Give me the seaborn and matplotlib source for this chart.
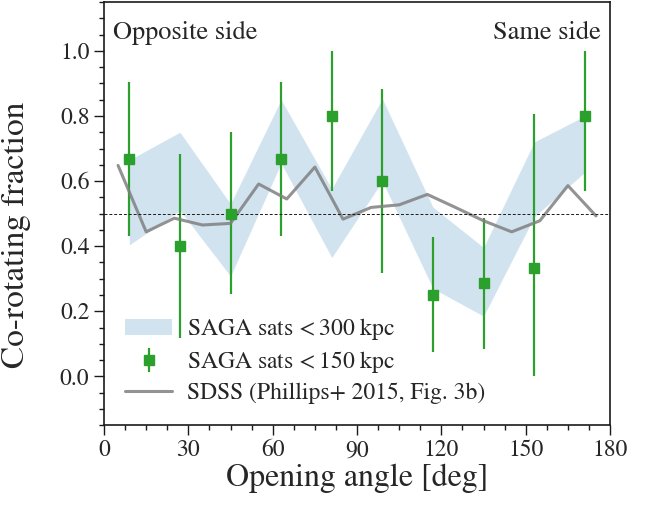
import numpy as np
import pandas as pd
import matplotlib
matplotlib.use("Agg")
import matplotlib.pyplot as plt
from matplotlib.ticker import MultipleLocator, FormatStrFormatter
import seaborn as sns

# SAGA sats < 150 kpc (binned points)
angle_bins = [9, 27, 45, 63, 81, 99, 117, 135, 153, 171]
frac_150 = [0.667, 0.4, 0.5, 0.667, 0.8, 0.6, 0.25, 0.286, 0.333, 0.8]
err_hi_150 = [0.905, 0.684, 0.751, 0.905, 1.0, 0.884, 0.427, 0.488, 0.807, 1.0]
err_lo_150 = [0.432, 0.118, 0.252, 0.432, 0.570, 0.319, 0.075, 0.084, 0.0, 0.570]

# SAGA sats < 300 kpc (band)
band_hi_300 = [0.665, 0.75, 0.53, 0.85, 0.576, 0.853, 0.52, 0.396, 0.72, 0.80]
band_lo_300 = [0.404, 0.51, 0.308, 0.655, 0.365, 0.60, 0.27, 0.185, 0.49, 0.627]

# SDSS (Phillips+ 2015, Fig. 3b)
sdss_angle = [5, 15, 25, 35, 45, 55, 65, 75, 85, 95, 105, 115, 125, 135, 145, 155, 165, 175]
sdss_frac = [0.648, 0.444, 0.486, 0.465, 0.470, 0.591, 0.545, 0.643, 0.483, 0.519,
             0.527, 0.559, 0.519, 0.478, 0.444, 0.478, 0.586, 0.493]

sns.set_theme(style="ticks")
plt.rcParams['font.family'] = ['STIXGeneral', 'Liberation Serif', 'DejaVu Serif']
plt.rcParams['mathtext.fontset'] = 'stix'

fig = plt.figure(figsize=(6.48, 5.05), dpi=100)
ax = fig.add_axes([0.1605, 0.158, 0.781, 0.838])

band = ax.fill_between(angle_bins, band_lo_300, band_hi_300, color='#1f77b4', alpha=0.2,
                       lw=0, label=r'SAGA sats$\,<300$ kpc')

frac = np.array(frac_150)
yerr = [frac - np.array(err_lo_150), np.array(err_hi_150) - frac]
pts = ax.errorbar(angle_bins, frac_150, yerr=yerr, fmt='s', color='#2ca02c', ms=7,
                  elinewidth=1.6, capsize=0, label=r'SAGA sats$\,<150$ kpc')

sdss = pd.DataFrame({'angle': sdss_angle, 'frac': sdss_frac})
sns.lineplot(data=sdss, x='angle', y='frac', ax=ax, color='gray', lw=2.2, alpha=0.85,
             label='SDSS (Phillips+ 2015, Fig. 3b)')

ax.axhline(0.5, color='k', ls='--', lw=0.7, dashes=(3, 2))

ax.set_xlim(0, 180)
ax.set_ylim(-0.15, 1.15)
ax.xaxis.set_major_locator(MultipleLocator(30))
ax.xaxis.set_minor_locator(MultipleLocator(7.5))
ax.yaxis.set_major_locator(MultipleLocator(0.2))
ax.yaxis.set_minor_locator(MultipleLocator(0.05))
ax.yaxis.set_major_formatter(FormatStrFormatter('%.1f'))
ax.tick_params(which='major', length=7, width=1, labelsize=17, color='k')
ax.tick_params(which='minor', length=3.5, width=1, color='k')
for s in ax.spines.values():
    s.set_color('k')
    s.set_linewidth(1.2)

ax.set_xlabel('Opening angle [deg]', fontsize=23, labelpad=2)
ax.set_ylabel('Co-rotating fraction', fontsize=24)
ax.yaxis.set_label_coords(-0.145, 0.45)

ax.text(0.018, 0.956, 'Opposite side', transform=ax.transAxes, ha='left', va='top', fontsize=19)
ax.text(0.982, 0.956, 'Same side', transform=ax.transAxes, ha='right', va='top', fontsize=19)

handles, labels = ax.get_legend_handles_labels()
order = [labels.index(l) for l in [r'SAGA sats$\,<300$ kpc', r'SAGA sats$\,<150$ kpc',
                                   'SDSS (Phillips+ 2015, Fig. 3b)']]
ax.legend([handles[i] for i in order], [labels[i] for i in order], loc='lower left',
          frameon=False, fontsize=17, bbox_to_anchor=(0.0, 0.0), handlelength=2.0,
          handletextpad=0.6, labelspacing=0.3)

fig.savefig('out.png', dpi=100)
